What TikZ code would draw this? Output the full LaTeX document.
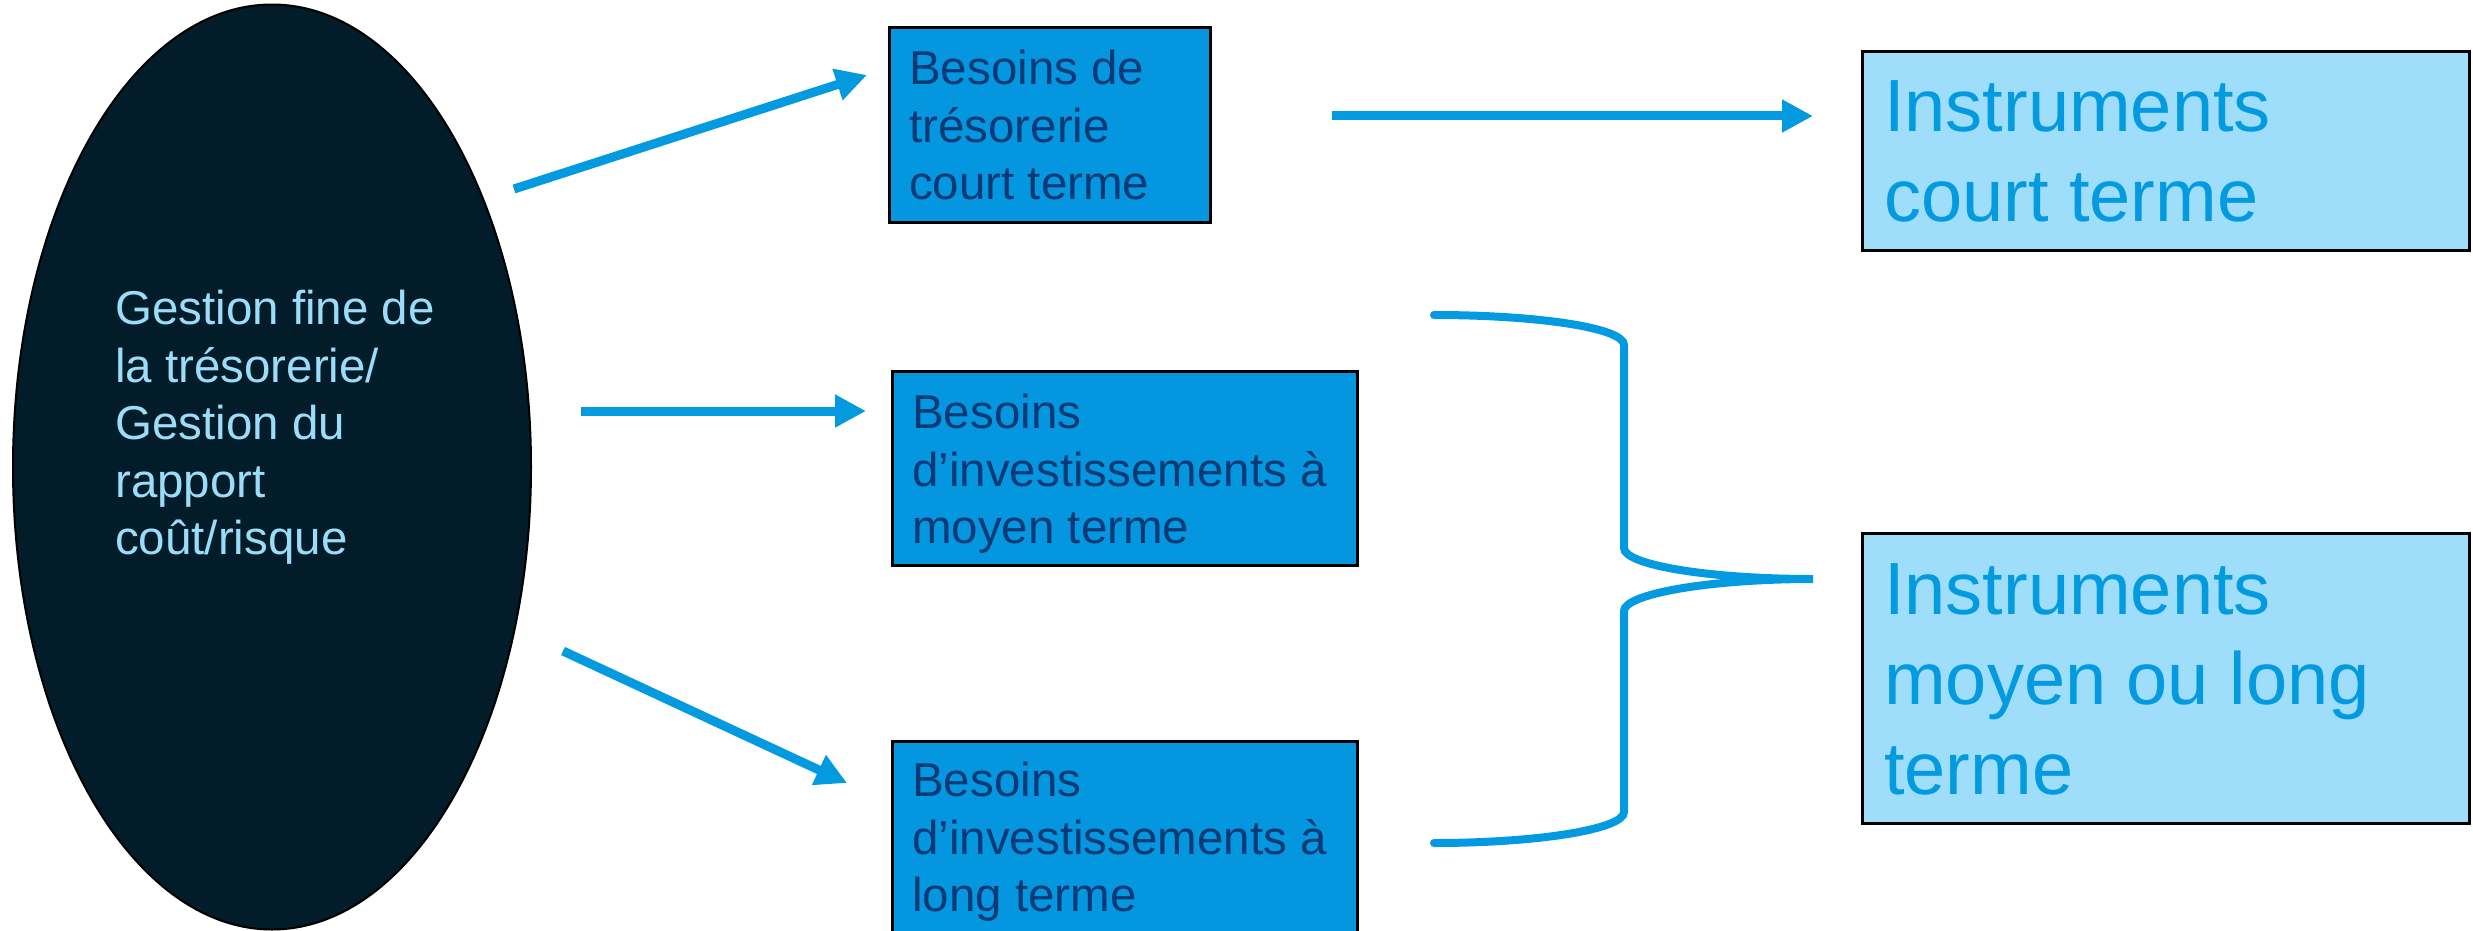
\documentclass[tikz,border=0pt]{standalone}
\usepackage{fontspec}
\setmainfont{Liberation Sans}
\usetikzlibrary{arrows.meta,shapes.geometric}
\definecolor{navy}{HTML}{031C29}
\definecolor{lighttext}{HTML}{9BDCF8}
\definecolor{midblue}{HTML}{0497DF}
\definecolor{darktext}{HTML}{0A3A75}
\definecolor{paleblue}{HTML}{9EDEFA}
\definecolor{arrowblue}{HTML}{049ADF}
\begin{document}
\begin{tikzpicture}[x=1pt,y=-1pt,
  box/.style={draw=black,line width=3pt,inner sep=0pt,outer sep=0pt},
  smalltxt/.style={anchor=north west,inner sep=0pt,align=left,font=\fontsize{47.5}{57.5}\selectfont},
  bigtxt/.style={anchor=north west,inner sep=0pt,align=left,font=\fontsize{74}{90}\selectfont},
  arr/.style={draw=arrowblue,line width=9pt,-{Triangle[length=31pt,width=31pt]}},
  bracestyle/.style={draw=arrowblue,line width=8pt,line cap=round}]
\useasboundingbox (0,0) rectangle (2473,931);
\fill[white] (0,0) rectangle (2473,931);

% ellipse
\node[ellipse,draw=black,line width=2pt,fill=navy,minimum width=518pt,minimum height=925pt,inner sep=0pt] (ell) at (272,467) {};
\node[smalltxt,text=lighttext] (elltxt) at (115,290) {Gestion fine de\\la trésorerie/\\Gestion du\\rapport\\coût/risque};

% boxes
\node[box,fill=midblue,minimum width=321pt,minimum height=194pt] (b1) at (1049.5,125) {};
\node[smalltxt,text=darktext] (t1) at (909,50) {Besoins de\\trésorerie\\court terme};

\node[box,fill=paleblue,minimum width=607pt,minimum height=198pt] (b2) at (2165.5,151) {};
\node[bigtxt,text=arrowblue] (t2) at (1884,80) {Instruments\\court terme};

\node[box,fill=midblue,minimum width=465pt,minimum height=194pt] (b3) at (1124.5,468) {};
\node[smalltxt,text=darktext] (t3) at (912,394) {Besoins\\d’investissements à\\moyen terme};

\node[box,fill=midblue,minimum width=465pt,minimum height=194pt] (b4) at (1124.5,838) {};
\node[smalltxt,text=darktext] (t4) at (912,762) {Besoins\\d’investissements à\\long terme};

\node[box,fill=paleblue,minimum width=607pt,minimum height=290pt] (b5) at (2165.5,678) {};
\node[bigtxt,text=arrowblue] (t5) at (1884,563) {Instruments\\moyen ou long\\terme};

% arrow end points
\coordinate (aS) at (514,189);  \coordinate (aE) at (867,75);
\coordinate (bS) at (581,411);  \coordinate (bE) at (866,411);
\coordinate (cS) at (563,651);  \coordinate (cE) at (847,783);
\coordinate (dS) at (1332,116); \coordinate (dE) at (1813,116);
\draw[arr] (aS) -- (aE);
\draw[arr] (bS) -- (bE);
\draw[arr] (cS) -- (cE);
\draw[arr] (dS) -- (dE);

% brace
\coordinate (brTop) at (1434,315);
\coordinate (brTip) at (1813,579);
\coordinate (brBot) at (1434,843);
\draw[bracestyle] (brTop) .. controls (1539,315) and (1624,328) .. (1624,345)
  -- (1624,548) .. controls (1624,565) and (1709,579) .. (brTip)
  .. controls (1709,579) and (1624,594) .. (1624,611)
  -- (1624,812) .. controls (1624,829) and (1539,843) .. (brBot);
\end{tikzpicture}
\end{document}
